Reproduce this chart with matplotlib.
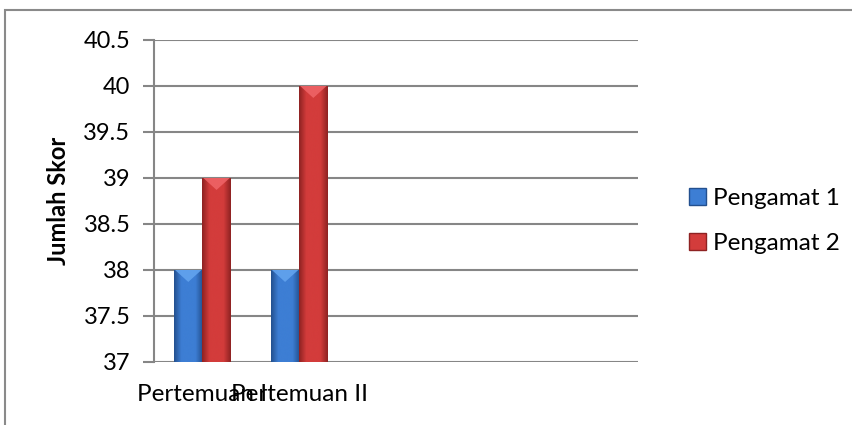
import numpy as np
import matplotlib.pyplot as plt
from matplotlib.patches import Rectangle, Polygon
from matplotlib.colors import LinearSegmentedColormap

# data
categories = ["Pertemuan I", "Pertemuan II", "", "", ""]
pengamat1 = [38, 38]
pengamat2 = [39, 40]
series_names = ["Pengamat 1", "Pengamat 2"]
yticks = [37, 37.5, 38, 38.5, 39, 39.5, 40, 40.5]

plt.rcParams['font.family'] = ['Lato', 'DejaVu Sans']

fig = plt.figure(figsize=(8.53, 4.25), dpi=100)
ax = fig.add_axes([154 / 853, 1 - 362 / 425, 484 / 853, 322 / 425])

x = np.arange(len(categories))
w = 0.292
grid_col = '#868686'

# (edge, mid, bevel) per series
styles = [('#23508f', '#3d7ed4', '#62a3ee'),
          ('#8e2222', '#d33c3b', '#ee6366')]

handles = []
for i, (vals, (edge, mid, light)) in enumerate(zip([pengamat1, pengamat2], styles)):
    xs = x[:len(vals)] + (i - 0.5) * w
    bars = ax.bar(xs, vals, width=w, color=mid, zorder=3, label=series_names[i])
    handles.append(Rectangle((0, 0), 1, 1, facecolor=mid, edgecolor=edge, lw=1))
    cmap = LinearSegmentedColormap.from_list('g', [edge, mid, mid, mid, edge])
    grad = np.linspace(0, 1, 64).reshape(1, -1)
    for b in bars:
        x0 = b.get_x()
        x1 = x0 + b.get_width()
        top = b.get_height()
        im = ax.imshow(grad, cmap=cmap, extent=(x0, x1, 37, top),
                       aspect='auto', zorder=4, interpolation='bicubic')
        im.set_clip_path(b)
        d = 0.13
        ax.add_patch(Polygon([(x0 + 0.01, top), (x1 - 0.01, top),
                              ((x0 + x1) / 2, top - d)],
                             closed=True, facecolor=light, edgecolor='none',
                             zorder=5, alpha=0.9))

ax.set_xlim(-0.5, len(categories) - 0.5)
ax.set_ylim(37, 40.5)
ax.set_yticks(yticks)
ax.set_yticklabels([f"{t:g}" for t in yticks], fontsize=17)
ax.set_xticks(x)
ax.set_xticklabels(categories, fontsize=17.5)
ax.tick_params(axis='x', length=0, pad=16)
ax.tick_params(axis='y', length=8, color=grid_col, width=1.5, pad=9)
ax.grid(axis='y', color=grid_col, linewidth=1.5, zorder=0)
ax.set_axisbelow(True)
for s in ['top', 'right', 'bottom']:
    ax.spines[s].set_visible(False)
ax.spines['left'].set_color(grid_col)
ax.spines['left'].set_linewidth(1.5)
ax.set_ylabel("Jumlah Skor", fontsize=17, fontweight='bold', labelpad=10)

leg = fig.legend(handles, series_names, loc='center left',
                 bbox_to_anchor=(667 / 853, 1 - 221 / 425), frameon=False,
                 fontsize=17.5, handlelength=0.7, handleheight=0.7,
                 handletextpad=0.3, labelspacing=0.95)

# outer chart frame, cropped on the right and bottom
fig.add_artist(Rectangle((5 / 853, -0.1), 1.2, 1.1 - 10 / 425,
                         transform=fig.transFigure, fill=False,
                         edgecolor='#8a8a8a', lw=1.5))

fig.savefig("out.png", dpi=100)
